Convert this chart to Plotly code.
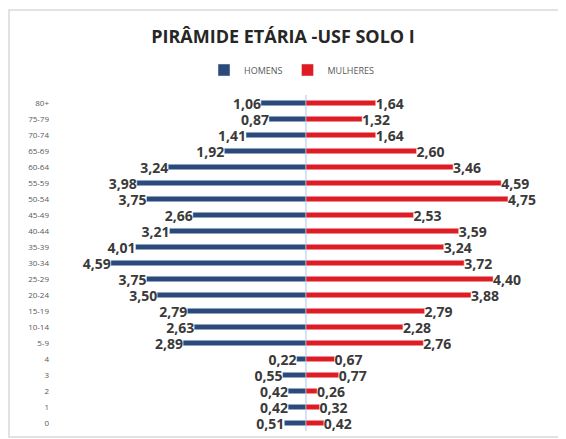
import plotly.graph_objects as go

categories = ["80+", "75-79", "70-74", "65-69", "60-64", "55-59", "50-54", "45-49",
              "40-44", "35-39", "30-34", "25-29", "20-24", "15-19", "10-14", "5-9",
              "4", "3", "2", "1", "0"]
homens = [1.06, 0.87, 1.41, 1.92, 3.24, 3.98, 3.75, 2.66, 3.21, 4.01, 4.59, 3.75,
          3.50, 2.79, 2.63, 2.89, 0.22, 0.55, 0.42, 0.42, 0.51]
mulheres = [1.64, 1.32, 1.64, 2.60, 3.46, 4.59, 4.75, 2.53, 3.59, 3.24, 3.72, 4.40,
            3.88, 2.79, 2.28, 2.76, 0.67, 0.77, 0.26, 0.32, 0.42]

# The page body adds an 8px offset; figure coords = page coords - 8
OFF = 8
W, H = 566 - OFF, 439 - OFF
L, R, T, B = 50 - OFF, 10, 95 - OFF, 8

def fmt(v):
    return f"{v:.2f}".replace(".", ",")

label_font = dict(size=14, color="#3A3A3A", family="Open Sans", weight="bold")

fig = go.Figure()
fig.add_trace(go.Bar(
    y=categories, x=[-v for v in homens], orientation="h", name="HOMENS",
    marker=dict(color="#2B4A7C"), width=0.34,
    text=[fmt(v) for v in homens], textposition="outside", constraintext="none",
    textfont=label_font, outsidetextfont=label_font,
    cliponaxis=False, hoverinfo="skip",
))
fig.add_trace(go.Bar(
    y=categories, x=mulheres, orientation="h", name="MULHERES",
    marker=dict(color="#E01B22"), width=0.34,
    text=[fmt(v) for v in mulheres], textposition="outside", constraintext="none",
    textfont=label_font, outsidetextfont=label_font,
    cliponaxis=False, hoverinfo="skip",
))

pw = W - L - R
ph = H - T - B
def px2paper_x(p):
    return (p - OFF - L) / pw
def px2paper_y(p):
    return (H - B - (p - OFF)) / ph

fig.update_layout(
    width=W, height=H,
    margin=dict(l=L, r=R, t=T, b=B, autoexpand=False),
    paper_bgcolor="white", plot_bgcolor="white",
    barmode="overlay",
    font=dict(family="Open Sans", color="#595959"),
    title=dict(text="<b>PIRÂMIDE ETÁRIA -USF SOLO I</b>", x=(283 - OFF) / W, xref="container",
               y=1 - (37 - OFF) / H, yref="container", xanchor="center", yanchor="middle",
               font=dict(size=18, color="#262626", family="Open Sans")),
    legend=dict(orientation="h", x=px2paper_x(292), xref="paper", xanchor="center",
                y=px2paper_y(70), yref="paper", yanchor="middle",
                font=dict(size=9, color="#595959"),
                traceorder="normal", itemwidth=30),
    xaxis=dict(range=[-6.02, 5.88], showticklabels=False, showgrid=False,
               zeroline=False, showline=False, fixedrange=True),
    yaxis=dict(type="category", categoryorder="array", categoryarray=categories,
               autorange="reversed", showgrid=False, zeroline=False, showline=False,
               ticks="", tickfont=dict(size=8, color="#595959"), fixedrange=True),
    shapes=[
        dict(type="line", xref="x", yref="paper", x0=0, x1=0, y0=0, y1=1,
             line=dict(color="#A9C8EA", width=1), layer="below"),
        dict(type="rect", xref="paper", yref="paper",
             x0=px2paper_x(OFF + 1), x1=px2paper_x(560), y0=px2paper_y(437), y1=px2paper_y(10),
             line=dict(color="#D9D9D9", width=1.5)),
    ],
    showlegend=True,
)

fig.write_html("out.html")
